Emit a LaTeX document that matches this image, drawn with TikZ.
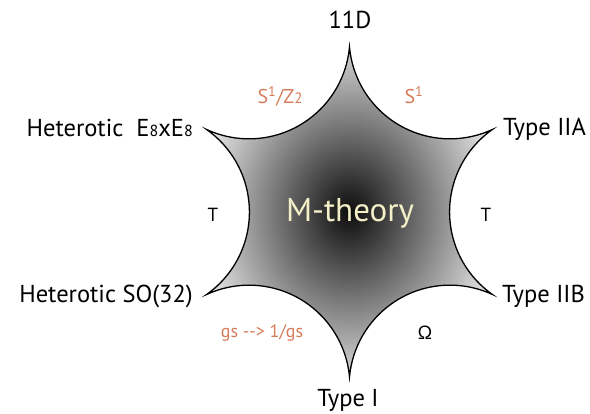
\documentclass[tikz,border=0pt]{standalone}
\usepackage{fontspec}
\setmainfont{PT Sans}
\definecolor{labelorange}{HTML}{D67B58}
\definecolor{cream}{HTML}{F3EFC6}
\pgfdeclareradialshading{mshade}{\pgfpoint{0bp}{0bp}}{color(0bp)=(black!95); color(29bp)=(white!97!black); color(50bp)=(white)}
\newcommand{\smalldigit}[1]{{\fontsize{16}{16}\selectfont #1}}
\begin{document}
\begin{tikzpicture}[x=1pt,y=1pt,
  bigtext/.style={font=\fontsize{24.5}{24.5}\selectfont, inner sep=0pt, text=black},
  oplabel/.style={font=\fontsize{20}{20}\selectfont, inner sep=0pt, text=labelorange},
  tlabel/.style={font=\fontsize{19}{19}\selectfont, inner sep=0pt, text=black},
  starline/.style={line width=1.3pt, draw=black, shading=mshade}]
\useasboundingbox (0,0) rectangle (590,414);
% star tips
\coordinate (ctr) at (349.5,202);
\coordinate (tTop) at (349.5,367);
% star outline with concave arcs
\path[starline] (tTop)
  arc[start angle=185.15, delta angle=109.7, radius=100.9]
  arc[start angle=125.15, delta angle=109.7, radius=100.9]
  arc[start angle=65.15, delta angle=109.7, radius=100.9]
  arc[start angle=5.15, delta angle=109.7, radius=100.9]
  arc[start angle=-54.85, delta angle=109.7, radius=100.9]
  arc[start angle=-114.85, delta angle=109.7, radius=100.9]
  -- cycle;
% centre text
\node[font=\fontsize{33}{33}\selectfont, text=cream, inner sep=0pt, anchor=base] (mth) at (350,192) {M-theory};
% vertex labels
\node[bigtext, anchor=base] (d11) at (350,385) {11D};
\node[bigtext, anchor=base east] (he) at (193,277) {Heterotic\ \ E\smalldigit{8}xE\smalldigit{8}};
\node[bigtext, anchor=base west] (iia) at (503,278) {Type IIA};
\node[bigtext, anchor=base east] (hso) at (193,111) {Heterotic SO(32)};
\node[bigtext, anchor=base west] (iib) at (502,111) {Type IIB};
\node[bigtext, anchor=base] (ti) at (348,7.5) {Type I};
% edge labels
\node[oplabel, anchor=base] (sz) at (280,310) {S\textsuperscript{1}/Z{\fontsize{15}{15}\selectfont 2}};
\node[oplabel, anchor=base] (s1) at (414,310) {S\textsuperscript{1}};
\node[oplabel, anchor=base, font=\fontsize{18}{18}\selectfont] (gs) at (262,76) {gs {-}{-}> 1/gs};
\node[tlabel, anchor=base] (tl) at (213,192.5) {T};
\node[tlabel, anchor=base] (tr) at (486,192.5) {T};
\node[tlabel, anchor=base] (om) at (425,74) {Ω};
\end{tikzpicture}
\end{document}
